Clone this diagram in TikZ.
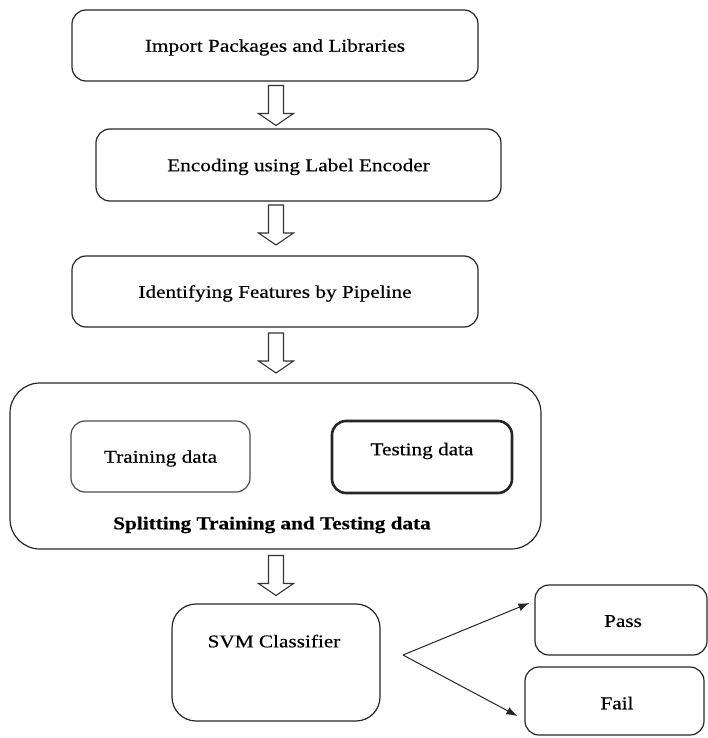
\documentclass[tikz,border=0pt]{standalone}
\usepackage{fontspec}
\setmainfont{Liberation Serif}[FakeStretch=1.18,FakeBold=0.4]
\usetikzlibrary{calc,arrows.meta}
\begin{document}
\begin{tikzpicture}[x=1pt,y=-1pt,
  box/.style={draw=black!85, line width=1.2pt, rounded corners=14pt, inner sep=0pt, text depth=0pt, font=\fontsize{18}{20}\selectfont},
  txt/.style={inner sep=0pt, text depth=0pt, font=\fontsize{18}{20}\selectfont},
  conn/.style={draw=black!85, line width=1pt, -{Latex[length=11pt,width=8pt]}},
  blkarrow/.pic={\draw[black!80, line width=1.1pt, fill=white] (-7.5,-20) -- (7.5,-20) -- (7.5,8) -- (17.5,8) -- (0,20) -- (-17.5,8) -- (-7.5,8) -- cycle;}
]
\useasboundingbox (0,0) rectangle (707,738);
% main boxes
\node[box, minimum width=406, minimum height=71] (imp) at (275,45.5) {Import Packages and Libraries};
\node[box, minimum width=405, minimum height=72] (enc) at (298.5,165) {Encoding using Label Encoder};
\node[box, minimum width=406, minimum height=71] (idf) at (275,291.5) {Identifying Features by Pipeline};
% split box
\node[box, rounded corners=30pt, minimum width=531, minimum height=166] (split) at (275.5,466) {};
\node[box, draw=black!70, minimum width=179, minimum height=71] (train) at (160.5,456.5) {Training data};
\node[box, line width=2.6pt, minimum width=180, minimum height=72] (test) at (422,457) {};
\node[txt] (testt) at (422,449) {Testing data};
\node[txt, font=\fontsize{18}{20}\selectfont\bfseries] (splitt) at (272,523) {Splitting Training and Testing data};
% classifier
\node[box, rounded corners=24pt, minimum width=208, minimum height=117] (svm) at (276,662.5) {};
\node[txt] (svmt) at (274,641) {SVM Classifier};
\node[box, minimum width=172, minimum height=70] (pass) at (621,620) {};
\node[txt] (passt) at (623,621) {Pass};
\node[box, minimum width=179, minimum height=68] (fail) at (614.5,701) {};
\node[txt] (failt) at (617,703) {Fail};
% block arrows
\pic at (276,105.5) {blkarrow};
\pic at (276,225) {blkarrow};
\pic at (276,353) {blkarrow};
\pic at (276,575.5) {blkarrow};
% fork arrows
\coordinate (fork) at (403,655);
\draw[conn] (fork) -- ([shift={(-5,-17)}]pass.west);
\draw[conn] (fork) -- ([shift={(-7,15)}]fail.west);
\end{tikzpicture}
\end{document}
